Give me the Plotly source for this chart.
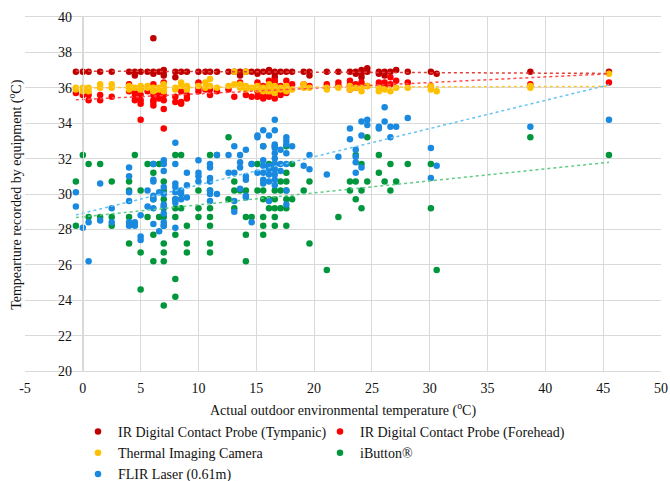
import numpy as np
import plotly.graph_objects as go

# Actual outdoor environmental temperature (°C) – measurement columns
env_temp = [-0.6, 0.0, 0.5, 1.5, 2.5, 4.0, 4.5, 5.0, 5.6, 6.1, 6.6, 7.0, 8.0, 8.5, 9.0, 10.0,
            10.6, 11.0, 11.6, 12.6, 13.1, 13.6, 14.1, 14.6, 15.1, 15.6, 16.1, 16.6, 17.1, 17.6,
            18.1, 19.1, 19.6, 21.1, 22.1, 23.1, 23.6, 24.1, 24.6, 25.6, 26.1, 26.6, 27.1, 28.1,
            30.1, 30.6, 38.7, 45.5]

tympanic = [[36.9], [36.9], [36.9], [36.9], [36.9], [36.9], [36.9, 36.7], [36.9], [36.9],
            [36.9, 36.8, 38.8], [36.9], [36.9, 37.0, 36.7], [36.9, 36.6], [36.9], [36.9], [36.9],
            [36.9], [36.9], [36.9], [36.9], [36.9], [36.9, 36.7], [36.9], [36.9], [36.9, 36.8],
            [36.9], [36.9, 37.0], [36.9, 36.8, 36.6], [36.9], [36.9], [36.9], [36.9], [36.9, 36.7],
            [36.9], [36.9], [36.9], [36.9, 36.8], [37.0, 36.8, 36.6], [37.1, 36.9], [36.9, 36.8],
            [36.9, 36.7], [36.9], [37.0], [36.9], [36.9], [36.8], [36.9], [36.9]]

forehead = [[35.7], [35.6], [35.6, 35.3], [35.6, 35.3], [35.5], [36.2, 35.8], [35.7, 35.5, 35.3],
            [36.0, 35.6, 35.3, 35.1, 34.2], [35.8], [36.2, 35.6, 35.3, 35.2, 35.0], [35.6, 35.4],
            [36.3, 35.6, 35.3, 34.8, 33.7], [35.5, 35.2], [35.8, 35.2, 35.1], [35.6, 35.4],
            [36.3, 36.0, 35.8], [35.9], [35.9, 35.6], [35.8], [35.9], [35.5], [36.3], [35.6],
            [35.5], [36.3, 35.8, 35.5], [36.1, 35.6, 35.4], [36.4, 35.9, 35.5],
            [36.4, 36.2, 35.7, 35.4], [36.1, 35.7, 35.6], [36.4, 35.7], [36.2], [36.2], [36.1],
            [36.2], [36.3, 36.1], [36.4, 36.2, 35.9], [36.2, 36.0], [36.3], [36.1], [36.3, 36.1],
            [36.3, 36.1], [36.6, 36.2], [36.4], [36.3], [36.1], [], [36.2], [36.3]]

thermal = [[36.0, 35.9], [36.0, 35.8], [36.0, 35.8], [36.2, 36.0], [36.2, 36.0],
           [36.1, 36.0, 35.9], [36.0], [36.1, 35.9], [36.0, 36.1], [36.0, 35.9, 35.8], [36.0, 35.9],
           [36.2, 36.0, 35.8], [36.0, 35.9], [36.3, 36.1], [36.1, 35.9], [36.1], [36.3, 36.0],
           [36.5, 36.1], [36.0], [36.1], [36.9, 36.2], [36.2, 36.0], [36.9, 36.1, 35.9], [36.0],
           [36.1, 36.0, 35.9], [36.0, 35.8], [36.2, 36.0, 35.8], [36.1, 35.9, 35.7], [36.0, 35.9],
           [36.1, 35.8], [35.9], [36.2, 36.0], [36.0], [36.0, 35.9], [36.0], [36.1, 35.9], [36.0],
           [36.0, 35.8], [36.1], [36.0, 35.8], [35.9], [35.8], [36.0], [36.0], [36.1, 35.9],
           [35.8], [36.0, 36.1], [36.8]]

ibutton = [[30.7, 28.2], [32.2], [31.7, 28.7], [31.7, 28.7], [30.7, 28.7, 28.2],
           [30.7, 30.2, 28.7, 27.2], [32.2], [30.2, 26.7, 24.6], [31.7, 28.7],
           [31.7, 31.2, 29.7, 27.7, 26.2], [31.7, 28.7],
           [30.7, 30.2, 29.7, 29.2, 28.7, 28.2, 27.2, 26.7, 26.2, 23.7],
           [32.2, 29.7, 29.2, 28.7, 27.7, 25.2, 24.2], [32.2, 29.2], [28.2, 27.2, 26.7],
           [30.2, 29.2, 28.7], [], [32.2, 30.2, 29.2, 28.7, 28.2, 27.2, 26.7], [32.2],
           [33.2, 29.7], [30.7, 30.2, 29.2], [30.2], [30.2, 28.7, 27.7, 26.2], [31.7, 28.7],
           [31.7, 30.2], [32.7, 30.2, 29.7, 28.7, 28.2, 27.7], [31.7, 29.7, 29.2],
           [32.7, 31.7, 30.2, 29.7, 29.2, 28.7, 28.2], [30.7, 30.2, 29.2],
           [32.7, 31.2, 30.7, 30.2, 29.7, 29.2, 28.2], [31.7, 29.7], [30.2], [30.7, 27.2],
           [25.7], [28.7], [30.7, 30.2], [32.2, 30.7, 29.7], [31.7, 30.2, 29.2], [33.2, 30.7],
           [32.2, 31.2], [30.7], [31.7, 30.2], [30.7], [31.7], [31.7, 29.2], [25.7], [33.2],
           [32.2]]

flir = [[30.1, 29.3], [28.1], [28.4, 26.2], [30.6, 28.5], [29.2, 28.4],
        [31.5, 31.0, 30.1, 29.6, 28.4, 28.2], [28.4, 28.2], [28.8, 27.6, 27.4], [30.2, 29.3],
        [31.7, 30.8, 30.7, 29.9, 29.7, 29.2, 28.3], [30.1, 27.9],
        [31.9, 31.7, 31.3, 30.4, 30.0, 29.4, 29.3, 28.9, 28.4, 28.2],
        [32.9, 31.7, 30.6, 30.4, 30.1, 29.7, 29.5, 28.1], [30.2, 30.0, 29.7], [31.2, 30.5, 29.8],
        [31.9, 31.2, 31.0, 30.7], [], [31.7, 31.5, 30.9, 30.7, 30.2, 30.0, 29.6], [32.2, 30.0],
        [32.2, 31.2], [32.7, 31.2, 29.6, 29.0], [32.2, 31.8, 31.5, 30.3],
        [32.5, 31.0, 30.8, 29.9, 29.8], [31.7, 28.4], [33.3, 33.2, 31.2],
        [33.6, 32.7, 31.9, 31.6, 31.2, 30.8, 30.6], [33.3, 31.6, 31.4, 31.1, 30.7, 29.6],
        [34.2, 33.6, 32.8, 32.6, 32.3, 32.0, 31.7, 31.4, 31.1, 30.8, 30.5], [32.5, 31.7, 31.3],
        [33.2, 33.0, 32.8, 32.3, 31.7, 30.2, 29.4], [32.7], [31.6], [32.2, 31.4], [31.1], [32.1],
        [33.7, 33.1], [32.5, 32.1, 31.8, 31.2], [34.1, 33.3, 31.5], [34.2, 33.9], [33.8, 33.7],
        [34.9, 34.1], [33.8, 33.2], [33.8], [34.3], [32.6, 30.9], [31.6], [33.8], [34.2]]

series_names = ["IR Digital Contact Probe (Tympanic)", "IR Digital Contact Probe (Forehead)",
                "Thermal Imaging Camera", "iButton®", "FLIR Laser (0.61m)"]
series_data = [tympanic, forehead, thermal, ibutton, flir]
legend_column = ["legend", "legend2", "legend", "legend2", "legend"]
marker_colors = ["#C00000", "#FF0000", "#FFC000", "#00963C", "#1A8AE0"]
trend_colors = ["#E0403A", "#FF4B4B", "#FFC73A", "#5FCB85", "#66C3F5"]

x_ticks = list(range(-5, 51, 5))
x_tick_labels = ["-5", "0", "5", "10", "15", "20", "25", "30", "35", "40", "45", "50"]
y_ticks = list(range(20, 41, 2))

FONT = "Liberation Serif"
TXT = "#111111"

fig = go.Figure()

flat = []
for name, data, col, lg in zip(series_names, series_data, marker_colors, legend_column):
    xs, ys = [], []
    for t, readings in zip(env_temp, data):
        for r in readings:
            xs.append(t)
            ys.append(r)
    flat.append((xs, ys))
    fig.add_trace(go.Scatter(x=xs, y=ys, mode="markers", name=name, legend=lg,
                             marker=dict(color=col, size=6.5, line=dict(width=0))))

for (xs, ys), col in zip(flat, trend_colors):
    xa, ya = np.array(xs), np.array(ys)
    slope, icpt = np.polyfit(xa, ya, 1)
    xl = [xa.min(), xa.max()]
    fig.add_trace(go.Scatter(x=xl, y=[slope * v + icpt for v in xl], mode="lines",
                             line=dict(color=col, width=1.5, dash="dot"),
                             showlegend=False, hoverinfo="skip"))

grid = "#D9D9D9"
legend_style = dict(orientation="v", xref="container", yref="container", xanchor="left",
                    yanchor="top", y=0.1351, itemwidth=30, bgcolor="rgba(0,0,0,0)",
                    font=dict(size=14, family=FONT, color=TXT), tracegroupgap=0)
fig.update_layout(
    width=670, height=481,
    margin=dict(l=25, r=9, t=17, b=110, autoexpand=False),
    paper_bgcolor="white", plot_bgcolor="white",
    font=dict(family=FONT, size=14, color=TXT),
    xaxis=dict(range=[-5, 50], tickvals=x_ticks, ticktext=x_tick_labels, showgrid=True,
               gridcolor=grid, gridwidth=1,
               zeroline=False, showline=True, linecolor=grid, mirror=True, automargin=False,
               ticks="", tickfont=dict(size=14, family=FONT, color=TXT), ticklabelstandoff=4,
               title=dict(text="Actual outdoor environmental temperature (<sup>o</sup>C)",
                          font=dict(size=14, family=FONT, color=TXT), standoff=10)),
    yaxis=dict(range=[20, 40], tickvals=y_ticks, showgrid=True, gridcolor=grid, gridwidth=1,
               zeroline=False, showline=True, linecolor=grid, mirror=True, automargin=False,
               ticks="", tickfont=dict(size=14, family=FONT, color=TXT),
               anchor="free", position=5 / 55, ticklabelstandoff=8),
    legend=dict(legend_style, x=0.1164),
    legend2=dict(legend_style, x=0.4776),
    annotations=[dict(text="Tempearture recorded by equipment (<sup>o</sup>C)",
                      xref="paper", yref="paper", x=-0.016, y=0.5, textangle=-90,
                      showarrow=False, xanchor="center", yanchor="middle",
                      font=dict(size=14, family=FONT, color=TXT))],
)

fig.write_html("out.html", post_script="document.body.style.margin='0';",
               config={"displayModeBar": False})
